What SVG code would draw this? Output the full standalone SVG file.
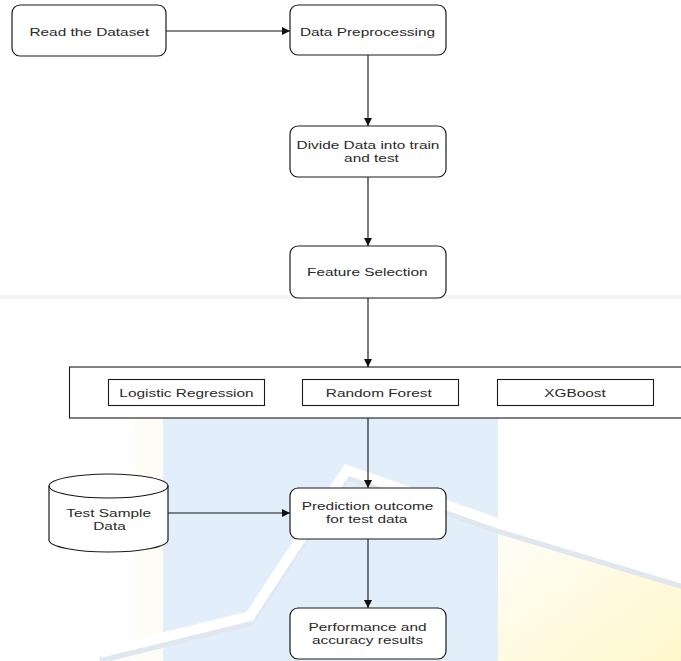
<svg xmlns="http://www.w3.org/2000/svg" width="681" height="661" viewBox="0 0 681 661">
  <defs>
    <style>
      .box { fill: #ffffff; stroke: #1a1a1a; stroke-width: 1.2; }
      .sq { fill: #ffffff; stroke: #1a1a1a; stroke-width: 1.1; }
      .lbl { font-family: "Liberation Sans", Arial, sans-serif; font-size: 11.5px; fill: #2a2a2a; text-anchor: middle; }
      .edge { fill: none; stroke: #111111; stroke-width: 1.1; }
    </style>
    <marker id="arr" viewBox="0 0 10 10" refX="10" refY="5" markerWidth="8" markerHeight="8" markerUnits="userSpaceOnUse" orient="auto">
      <path d="M0,0 L10,5 L0,10 Z" fill="#111111"/>
    </marker>
    <linearGradient id="yel" x1="0" y1="0" x2="1" y2="1">
      <stop offset="0" stop-color="#fffef8"/>
      <stop offset="1" stop-color="#fff7cc"/>
    </linearGradient>
  </defs>

  <g id="background">
    <rect x="0" y="0" width="681" height="661" fill="#ffffff"/>
    <rect x="0" y="295" width="681" height="4" fill="#f4f4f4"/>
    <rect x="135" y="418" width="28" height="243" fill="#fefdf5"/>
    <rect x="163" y="418" width="335" height="243" fill="#e3eefb"/>
    <polygon points="498,528 681,584 681,661 498,661" fill="url(#yel)"/>
    <polyline points="100,660 250,623 290,562 347,477 500,531 690,588" fill="none" stroke="#e1e7ef" stroke-width="7"/>
    <polyline points="100,653 250,616 290,555 347,470 500,524 690,581" fill="none" stroke="#ffffff" stroke-width="10"/>
  </g>

  <g id="connectors">
    <line class="edge" x1="166" y1="31" x2="290" y2="31" marker-end="url(#arr)"/>
    <line class="edge" x1="368" y1="55" x2="368" y2="126" marker-end="url(#arr)"/>
    <line class="edge" x1="368" y1="177" x2="368" y2="246" marker-end="url(#arr)"/>
    <line class="edge" x1="368" y1="298" x2="368" y2="367" marker-end="url(#arr)"/>
    <line class="edge" x1="368" y1="418" x2="368" y2="488" marker-end="url(#arr)"/>
    <line class="edge" x1="168" y1="513" x2="290" y2="513" marker-end="url(#arr)"/>
    <line class="edge" x1="368" y1="539" x2="368" y2="608" marker-end="url(#arr)"/>
  </g>

  <g id="read-dataset">
    <rect class="box" x="12" y="5" width="154" height="51" rx="8"/>
    <text class="lbl" transform="translate(89.3 35.5) scale(1.34 1)">Read the Dataset</text>
  </g>

  <g id="data-preprocessing">
    <rect class="box" x="290" y="5" width="156" height="50" rx="8"/>
    <text class="lbl" transform="translate(367.5 35.5) scale(1.34 1)">Data Preprocessing</text>
  </g>

  <g id="divide-data">
    <rect class="box" x="290" y="126" width="156" height="51" rx="8"/>
    <text class="lbl" transform="translate(368 149) scale(1.34 1)">Divide Data into train</text>
    <text class="lbl" transform="translate(371.5 162) scale(1.34 1)">and test</text>
  </g>

  <g id="feature-selection">
    <rect class="box" x="290" y="246" width="156" height="52" rx="8"/>
    <text class="lbl" transform="translate(367.3 275.5) scale(1.34 1)">Feature Selection</text>
  </g>

  <g id="models">
    <rect class="sq" x="69.5" y="367" width="625" height="51"/>
    <g id="logistic-regression">
      <rect class="sq" x="108.5" y="379.5" width="156" height="26"/>
      <text class="lbl" transform="translate(186.5 396.5) scale(1.34 1)">Logistic Regression</text>
    </g>
    <g id="random-forest">
      <rect class="sq" x="302.5" y="379.5" width="156" height="26"/>
      <text class="lbl" transform="translate(378.8 396.5) scale(1.34 1)">Random Forest</text>
    </g>
    <g id="xgboost">
      <rect class="sq" x="497.5" y="379.5" width="156" height="26"/>
      <text class="lbl" transform="translate(575 396.5) scale(1.34 1)">XGBoost</text>
    </g>
  </g>

  <g id="test-sample-data">
    <path class="box" d="M49,486 A59.5,12 0 0 1 168,486 V540 A59.5,12 0 0 1 49,540 Z"/>
    <path class="edge" d="M49,486 A59.5,12 0 0 0 168,486"/>
    <text class="lbl" transform="translate(108.7 517) scale(1.34 1)">Test Sample</text>
    <text class="lbl" transform="translate(109.5 530) scale(1.34 1)">Data</text>
  </g>

  <g id="prediction-outcome">
    <rect class="box" x="290" y="488" width="156" height="51" rx="8"/>
    <text class="lbl" transform="translate(367.5 510) scale(1.34 1)">Prediction outcome</text>
    <text class="lbl" transform="translate(366.7 523) scale(1.34 1)">for test data</text>
  </g>

  <g id="performance-results">
    <rect class="box" x="290" y="608" width="156" height="51" rx="8"/>
    <text class="lbl" transform="translate(367.5 631) scale(1.34 1)">Performance and</text>
    <text class="lbl" transform="translate(367.5 644) scale(1.34 1)">accuracy results</text>
  </g>
</svg>
